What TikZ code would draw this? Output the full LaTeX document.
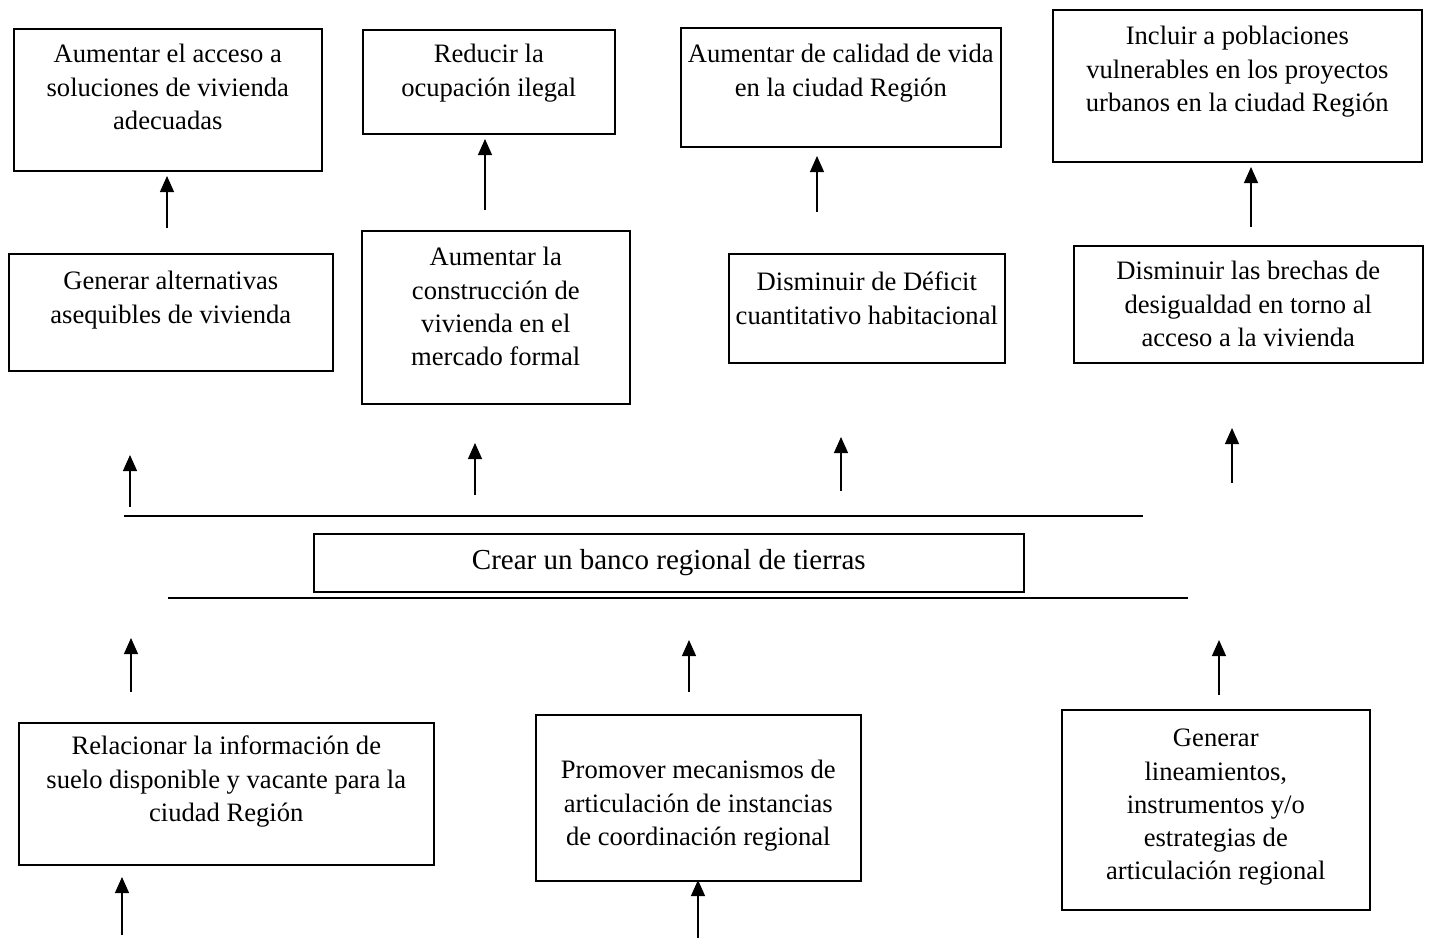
\documentclass[tikz,border=0pt]{standalone}
\usepackage{fontspec}
\setmainfont{Liberation Serif}
\usetikzlibrary{arrows.meta}
\tikzstyle{goalbox}=[draw=black,line width=0.8pt,inner sep=0pt,
                     anchor=north west]
\tikzstyle{uparrow}=[line width=0.6pt,
                     -{Triangle[width=7pt,length=8pt]}]
\tikzstyle{rule}=[line width=0.7pt]
% width, height, first baseline (all in px), text
\newcommand{\celda}[4]{\parbox[t][\dimexpr #2pt/2\relax][t]{\dimexpr #1pt/2\relax}%
  {\centering\rule{0pt}{\dimexpr #3pt/2\relax}#4}}

\begin{document}
\begin{tikzpicture}[x=0.5pt,y=-0.5pt,font=\fontsize{13.3}{16.6}\selectfont]
    \useasboundingbox (0,0) rectangle (1429,938);
    % fines indirectos
    \node (fi1) at (13,28) [goalbox]{\celda{308}{142}{34}{Aumentar el acceso a\\
      soluciones de vivienda\\ adecuadas}};
    \node (fi2) at (362,29) [goalbox]{\celda{252}{104}{33}{Reducir la\\
      ocupación ilegal}};
    \node (fi3) at (680,27) [goalbox]{\celda{320}{119}{35}{Aumentar de calidad de vida\\
      en la ciudad Región}};
    \node (fi4) at (1052,9) [goalbox]{\celda{369}{152}{35}{Incluir a poblaciones\\
      vulnerables en los proyectos\\ urbanos en la ciudad Región}};
    % fines directos
    \node (fd1) at (8,253) [goalbox]{\celda{324}{117}{36}{Generar alternativas\\
      asequibles de vivienda}};
    \node (fd2) at (361,230) [goalbox]{\celda{268}{173}{35}{Aumentar la\\
      construcción de\\ vivienda en el\\ mercado formal}};
    \node (fd3) at (728,253) [goalbox]{\celda{276}{109}{37}{Disminuir de Déficit\\
      cuantitativo habitacional}};
    \node (fd4) at (1073,245) [goalbox]{\celda{349}{117}{34}{Disminuir las brechas de\\
      desigualdad en torno al\\ acceso a la vivienda}};
    % objetivo central
    \node (obj) at (313,533) [goalbox,minimum width=355pt,minimum height=29pt]
      {\fontsize{14.5}{17}\selectfont Crear un banco regional de tierras};
    % medios
    \node (m1) at (18,722) [goalbox]{\celda{415}{142}{32}{Relacionar la información de\\
      suelo disponible y vacante para la\\ ciudad Región}};
    \node (m2) at (535,714) [goalbox]{\celda{325}{166}{64}{Promover mecanismos de\\
      articulación de instancias\\ de coordinación regional}};
    \node (m3) at (1061,709) [goalbox]{\celda{308}{200}{37}{Generar\\
      lineamientos,\\ instrumentos y/o\\ estrategias de\\ articulación regional}};

    \coordinate (l1a) at (124,516);  \coordinate (l1b) at (1143,516);
    \coordinate (l2a) at (168,598);  \coordinate (l2b) at (1188,598);
    \draw[rule] (l1a) -- (l1b);
    \draw[rule] (l2a) -- (l2b);

    \coordinate (p1s) at (167,228);  \coordinate (p1e) at (167,176);
    \coordinate (p2s) at (485,210);  \coordinate (p2e) at (485,139);
    \coordinate (p3s) at (817,212);  \coordinate (p3e) at (817,156);
    \coordinate (p4s) at (1251,227); \coordinate (p4e) at (1251,167);
    \coordinate (q1s) at (130,507);  \coordinate (q1e) at (130,455);
    \coordinate (q2s) at (475,495);  \coordinate (q2e) at (475,443);
    \coordinate (q3s) at (841,491);  \coordinate (q3e) at (841,437);
    \coordinate (q4s) at (1232,483); \coordinate (q4e) at (1232,428);
    \coordinate (r1s) at (131,692);  \coordinate (r1e) at (131,638);
    \coordinate (r2s) at (689,692);  \coordinate (r2e) at (689,640);
    \coordinate (r3s) at (1219,695); \coordinate (r3e) at (1219,640);
    \coordinate (s1s) at (122,935);  \coordinate (s1e) at (122,877);
    \coordinate (s2s) at (698,938);  \coordinate (s2e) at (698,880);
    \draw[uparrow] (p1s) -- (p1e);
    \draw[uparrow] (p2s) -- (p2e);
    \draw[uparrow] (p3s) -- (p3e);
    \draw[uparrow] (p4s) -- (p4e);
    \draw[uparrow] (q1s) -- (q1e);
    \draw[uparrow] (q2s) -- (q2e);
    \draw[uparrow] (q3s) -- (q3e);
    \draw[uparrow] (q4s) -- (q4e);
    \draw[uparrow] (r1s) -- (r1e);
    \draw[uparrow] (r2s) -- (r2e);
    \draw[uparrow] (r3s) -- (r3e);
    \draw[uparrow] (s1s) -- (s1e);
    \draw[uparrow] (s2s) -- (s2e);
  \end{tikzpicture}
\end{document}
